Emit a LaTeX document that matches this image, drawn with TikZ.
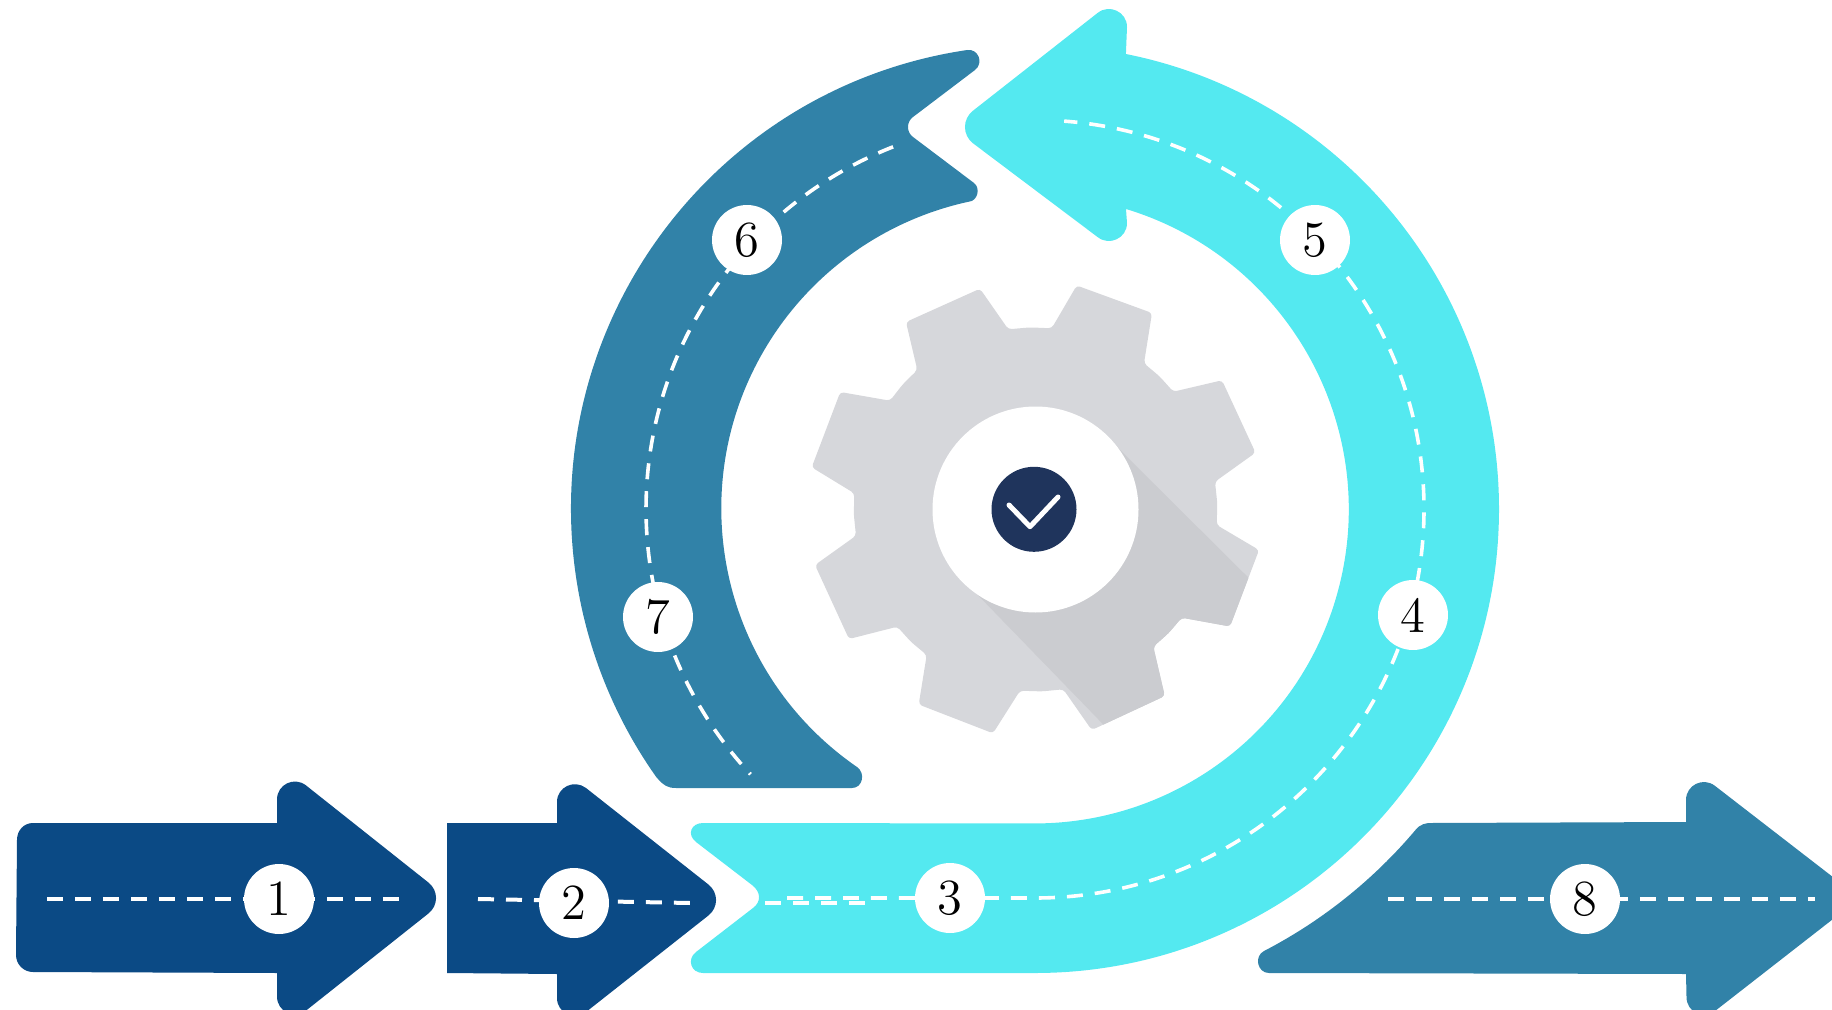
\documentclass[tikz,border=0pt]{standalone}
\definecolor{navy}{HTML}{0B4A85}
\definecolor{tealb}{HTML}{3182A8}
\definecolor{cyanb}{HTML}{54E9F0}
\definecolor{gearc}{HTML}{D6D7DB}
\definecolor{gears}{HTML}{CBCCD0}
\definecolor{hubc}{HTML}{1F345C}
\pgfdeclarelayer{bg}\pgfdeclarelayer{mid}\pgfsetlayers{bg,mid,main}
\newcommand{\numtext}[1]{\scalebox{2.4}{\fontsize{12}{14}\selectfont #1}}
\tikzset{
  numnode/.style={circle,fill=white,minimum size=1.4cm,inner sep=0pt},
  dashline/.style={white,line width=.08cm,dash pattern=on .32cm off .24cm},
  dasharc/.style={white,line width=.072cm,dash pattern=on .32cm off .24cm},
}
\def\gearpath{(1051.7,328.3) -- (1076.7,285.5) -- (1152,313) -- (1144,363.3)
 -- (1159.7,376.5) -- (1173.3,391.7) -- (1222,380.3) -- (1255.5,452.7) -- (1215,481.7)
 -- (1217.3,503.4) -- (1216.7,525) -- (1259,550) -- (1230,626.5) -- (1181.7,617.7)
 -- (1168.5,633.2) -- (1153.3,646.7) -- (1164.8,696) -- (1091.7,730) -- (1063.3,689.3)
 -- (1041.8,691.4) -- (1020,690.7) -- (993,733.3) -- (918.7,704.5) -- (926.7,655)
 -- (911,641.9) -- (897.3,626.7) -- (849,639) -- (815,565) -- (856,535.7)
 -- (853.8,514.5) -- (854.3,493.3) -- (811.7,467.3) -- (840.3,392) -- (890,400.7)
 -- (902.7,384.4) -- (917.3,370) -- (906,322) -- (980,288.7) -- (1008.3,329.3)
 -- (1030,327.4) -- cycle}
\begin{document}
\begin{tikzpicture}[x=.02cm,y=-.02cm]
\useasboundingbox (0,0) rectangle (1832,1010);
% number nodes
\node[numnode] (n1) at (279,899) {\numtext{1}};
\node[numnode] (n2) at (574,903) {\numtext{2}};
\node[numnode] (n3) at (950,898) {\numtext{3}};
\node[numnode] (n4) at (1413,615) {\numtext{4}};
\node[numnode] (n5) at (1315,240) {\numtext{5}};
\node[numnode] (n6) at (747,240) {\numtext{6}};
\node[numnode] (n7) at (658,617) {\numtext{7}};
\node[numnode] (n8) at (1585,899) {\numtext{8}};
% free ends of the dashed lines
\coordinate (d1a) at (47,899);
\coordinate (d1b) at (399,899);
\coordinate (d2a) at (478,899);
\coordinate (d2b) at (690,903);
\coordinate (d3x) at (765,903);
\coordinate (d3y) at (866,903);
\coordinate (d3a) at (787,898);
\coordinate (d3b) at (1035,898);
\coordinate (d6a) at (1035,509);
\coordinate (d8a) at (1388,899);
\coordinate (d8b) at (1815,899);
\begin{pgfonlayer}{bg}
% cyan ring arrow
\fill[cyanb] (1035,509) ++(90:464) arc (90:-78.7:464)
  -- (1127,27) .. controls (1127,12) and (1109.6,3.6) .. (1097.8,12.8)
  -- (973,110.7) .. controls (962.3,119) and (962.3,135) .. (973,143.3)
  -- (1097.8,237.2) .. controls (1109.6,246.4) and (1127,238) .. (1127,223)
  -- (1126,209) arc (-73.1:90:314)
  -- (703,823) .. controls (691,823) and (686.5,834.6) .. (696,842)
  -- (752,885) .. controls (761.2,892) and (761.2,902) .. (753,908)
  -- (696,952) .. controls (686.5,959.4) and (691,973) .. (703,973) -- cycle;
% teal ring arrow
\fill[tealb] (1035,509) ++(261.6:464) arc (261.6:144.7:464)
  .. controls (664,786) and (668,788) .. (676,788)
  -- (852,788) .. controls (862.7,788) and (865.8,773.1) .. (857,767)
  arc (124.6:257.8:314)
  .. controls (977.4,201.2) and (980.9,188.2) .. (974,183)
  -- (913,137) .. controls (906.3,132) and (906.3,122) .. (913,117)
  -- (975,70) .. controls (984.1,63.1) and (978.3,48.3) .. (967,50) -- cycle;
% arrow 1
\fill[navy] (277,823) -- (277,799.5) .. controls (277,784.5) and (294.2,776.1) .. (306,785.4)
  -- (428.4,882.5) .. controls (438.6,890.6) and (438.6,905.4) .. (428.4,913.5)
  -- (306,1010.6) .. controls (294.2,1019.9) and (277,1011.5) .. (277,996.5)
  -- (277,973) -- (33,972) .. controls (23.6,972) and (16,964.4) .. (16,955)
  -- (17,840) .. controls (17,830.6) and (23.6,823) .. (33,823) -- cycle;
% arrow 2
\fill[navy] (447,823) -- (557,823) -- (557,802) .. controls (557,787) and (574.2,779) .. (586,788)
  -- (708.4,884.5) .. controls (718.6,892.6) and (718.6,907.4) .. (708.4,915.5)
  -- (586,1012) .. controls (574.2,1021) and (557,1013) .. (557,998)
  -- (557,974) -- (447,973) -- cycle;
% arrow 8
\fill[tealb] (1431,823) -- (1686,822) -- (1686,800) .. controls (1686,785) and (1703.2,776.6) .. (1715,785.9)
  -- (1860,898) -- (1715,1011) .. controls (1703.2,1020.3) and (1686.5,1012) .. (1686.5,997)
  -- (1686,974) -- (1269,973) .. controls (1257.4,973) and (1253.7,956.3) .. (1264,951)
  arc (62.6:40.2:498) .. controls (1420,824) and (1426,823) .. (1431,823) -- cycle;
% gear
\fill[gearc,rounded corners=.07cm] \gearpath;
\begin{scope}
  \clip[rounded corners=.07cm] \gearpath;
  \fill[gears] (1113,443) -- (1290,619) -- (1130,752) -- (970,587) -- cycle;
\end{scope}
\fill[white] (1035.5,509.5) circle (103);
\fill[hubc] (1034,509.3) circle (42.5);
\draw[white,line width=.1cm,line cap=round,line join=round] (1009,505) -- (1030,526.7) -- (1058,497);
\end{pgfonlayer}
\begin{pgfonlayer}{mid}
\draw[dashline] (d1a) -- (n1.center) -- (d1b);
\draw[dashline] (d2a) -- (d2b);
\draw[dashline] (d3x) -- (d3y);
\draw[dasharc] (d3a) -- (n3.center) -- (d3b) arc (90:-85.7:389);
\draw[dasharc] (d6a) ++(248.6:389) arc (248.6:137:389);
\draw[dashline] (d8a) -- (n8.center) -- (d8b);
\end{pgfonlayer}
\end{tikzpicture}
\end{document}
